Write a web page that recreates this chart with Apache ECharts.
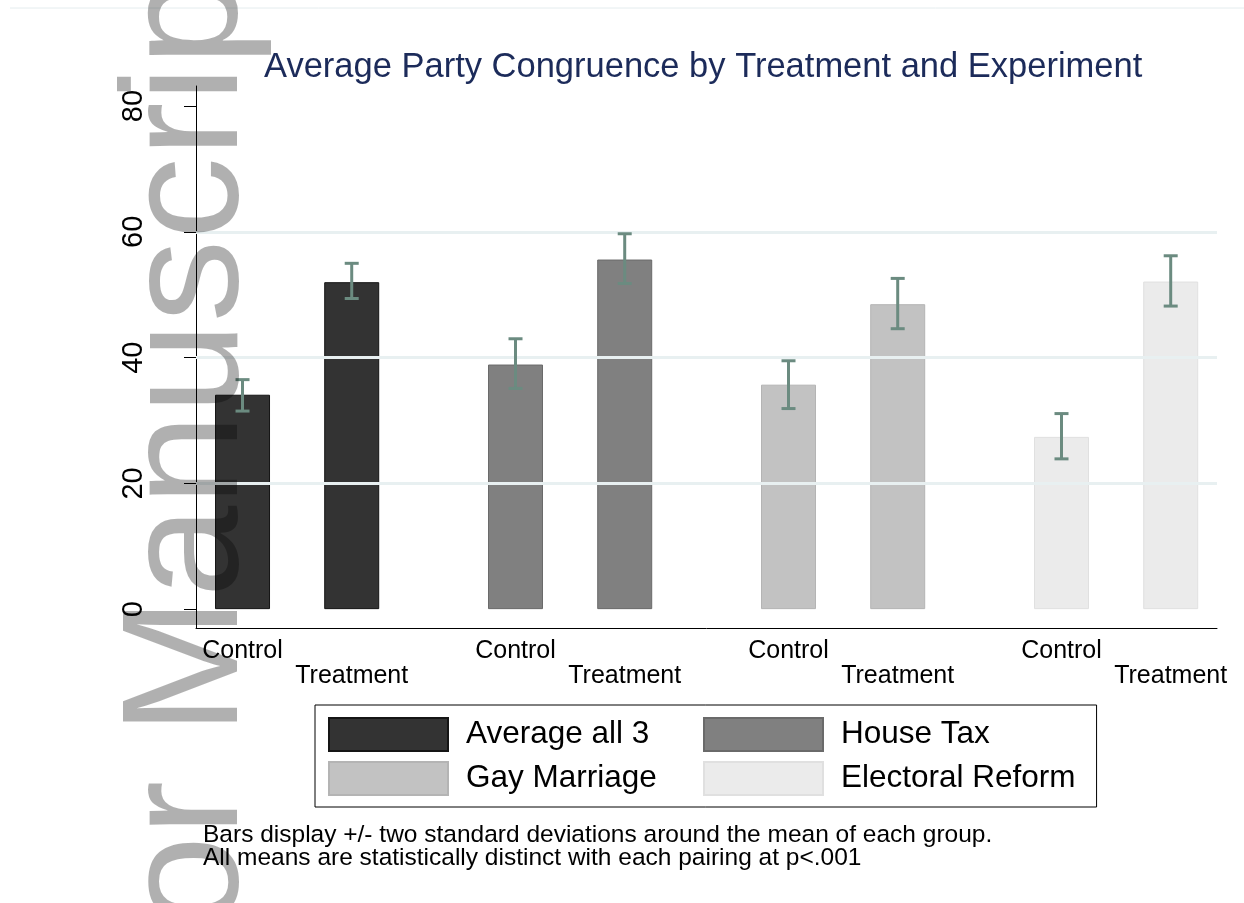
<!DOCTYPE html>
<html><head><meta charset="utf-8">
<script src="https://cdn.jsdelivr.net/npm/echarts@6/dist/echarts.min.js"></script>
<style>html,body{margin:0;padding:0;background:#fff}#c{width:1244px;height:903px}</style>
</head><body><div id="c"></div>
<script>
// ---- data ----
const experiments = ['Average all 3', 'House Tax', 'Gay Marriage', 'Electoral Reform'];
const treatments = ['Control', 'Treatment'];
const meanAverage = [34.1, 52.0];
const meanHouseTax = [38.9, 55.6];
const meanGayMarriage = [35.7, 48.5];
const meanElectoral = [27.4, 52.1];
const lowAverage = [31.5, 49.4];
const highAverage = [36.5, 55.0];
const lowHouseTax = [35.1, 51.8];
const highHouseTax = [43.0, 59.7];
const lowGayMarriage = [31.9, 44.6];
const highGayMarriage = [39.5, 52.6];
const lowElectoral = [23.9, 48.2];
const highElectoral = [31.1, 56.2];
const yTicks = [0, 20, 40, 60, 80];
const gridValues = [20, 40, 60];
const titleText = 'Average Party Congruence by Treatment and Experiment';
const noteLines = ['Bars display +/- two standard deviations around the mean of each group.',
                   'All means are statistically distinct with each pairing at p<.001'];
const watermarkText = 'Author Manuscript';

// ---- build ----
const means = [meanAverage, meanHouseTax, meanGayMarriage, meanElectoral];
const lows = [lowAverage, lowHouseTax, lowGayMarriage, lowElectoral];
const highs = [highAverage, highHouseTax, highGayMarriage, highElectoral];
const barColors = ['#333333', '#808080', '#c2c2c2', '#ebebeb'];
const borderColors = ['#151515', '#6a6a6a', '#b4b4b4', '#e0e0e0'];
const FONT = "'Liberation Sans', Arial, Helvetica, sans-serif";
const slotsPerGroup = 5, treatmentStep = 2;
const pos = (g, t) => g * slotsPerGroup + t * treatmentStep;

const labelPositions = [], labelByPos = {};
experiments.forEach((e, g) => treatments.forEach((t, ti) => {
  const p = pos(g, ti); labelPositions.push(p); labelByPos[p] = t;
}));

const barSeries = experiments.map((name, g) => ({
  name, type: 'bar', barWidth: 55, barGap: '-100%', z: 2,
  itemStyle: { color: barColors[g], borderColor: borderColors[g], borderWidth: 1 },
  data: treatments.map((t, ti) => [pos(g, ti), means[g][ti]])
}));

const errData = [];
experiments.forEach((e, g) => treatments.forEach((t, ti) => errData.push([pos(g, ti), lows[g][ti], highs[g][ti]])));

const errColor = '#6b8b80';
const errSeries = {
  type: 'custom', z: 5, silent: true,
  encode: { x: 0, y: [1, 2] },
  data: errData,
  renderItem(params, api) {
    const x = api.value(0);
    const top = api.coord([x, api.value(2)]);
    const bot = api.coord([x, api.value(1)]);
    const hw = 7;
    const st = { stroke: errColor, lineWidth: 3 };
    return { type: 'group', children: [
      { type: 'line', shape: { x1: top[0], y1: top[1], x2: bot[0], y2: bot[1] }, style: st },
      { type: 'line', shape: { x1: top[0] - hw, y1: top[1], x2: top[0] + hw, y2: top[1] }, style: st },
      { type: 'line', shape: { x1: bot[0] - hw, y1: bot[1], x2: bot[0] + hw, y2: bot[1] }, style: st }
    ]};
  }
};

const gridSeries = {
  type: 'line', data: [], z: 1, silent: true,
  markLine: {
    silent: true, symbol: ['none', 'none'], label: { show: false },
    lineStyle: { color: '#e8f0f1', width: 3, type: 'solid' },
    data: gridValues.map(v => ({ yAxis: v }))
  }
};

const chart = echarts.init(document.getElementById('c'), null, { renderer: 'canvas' });
chart.setOption({
  animation: false,
  backgroundColor: '#ffffff',
  title: {
    text: titleText, left: 259, top: 45,
    textStyle: { fontFamily: FONT, fontSize: 34.5, fontWeight: 'normal', color: '#1c2b5a' }
  },
  grid: { left: 196, right: 27, top: 86, bottom: 275 },
  legend: {
    orient: 'vertical', left: 315, top: 705, height: 102,
    padding: [12, 21, 11, 13], itemGap: 9,
    borderColor: '#000', borderWidth: 1,
    itemWidth: 119, itemHeight: 33, icon: 'rect',
    data: [experiments[0], experiments[2], experiments[1], experiments[3]],
    textStyle: { fontFamily: FONT, fontSize: 31.5, color: '#000', width: 228, lineHeight: 33, padding: [0, 0, 0, 13] }
  },
  xAxis: {
    type: 'value', min: -0.852, max: 17.848,
    axisLine: { show: true, onZero: false, lineStyle: { color: '#000', width: 1 } },
    axisTick: { show: false }, splitLine: { show: false },
    axisLabel: {
      customValues: labelPositions, margin: 11,
      fontFamily: FONT, fontSize: 25, color: '#000', lineHeight: 25,
      formatter: v => labelByPos[v] === 'Treatment' ? '\nTreatment' : (labelByPos[v] || '')
    }
  },
  yAxis: {
    type: 'value', min: -3.0, max: 83.2,
    axisLine: { show: true, onZero: false, lineStyle: { color: '#000', width: 1 } },
    axisTick: { show: true, customValues: yTicks, length: 12, lineStyle: { color: '#000' } },
    splitLine: { show: false },
    axisLabel: { customValues: yTicks, rotate: 90, margin: 48, fontFamily: FONT, fontSize: 29, color: '#000' }
  },
  series: [gridSeries, ...barSeries, errSeries],
  graphic: [
    { type: 'line', shape: { x1: 10, y1: 8, x2: 1244, y2: 8 }, style: { stroke: '#e4ecee', lineWidth: 1 }, z: 0 },
    { type: 'text', left: 203, top: 823, z: 10,
      style: { text: noteLines.join('\n'), font: '24.5px ' + FONT, fill: '#000', lineHeight: 23 } },
    { type: 'text', x: 191, y: 1267, rotation: Math.PI / 2, z: 100, silent: true,
      style: { text: watermarkText, font: '165px ' + FONT, fill: 'rgba(0,0,0,0.31)', align: 'left', verticalAlign: 'middle' } }
  ]
});
</script></body></html>
